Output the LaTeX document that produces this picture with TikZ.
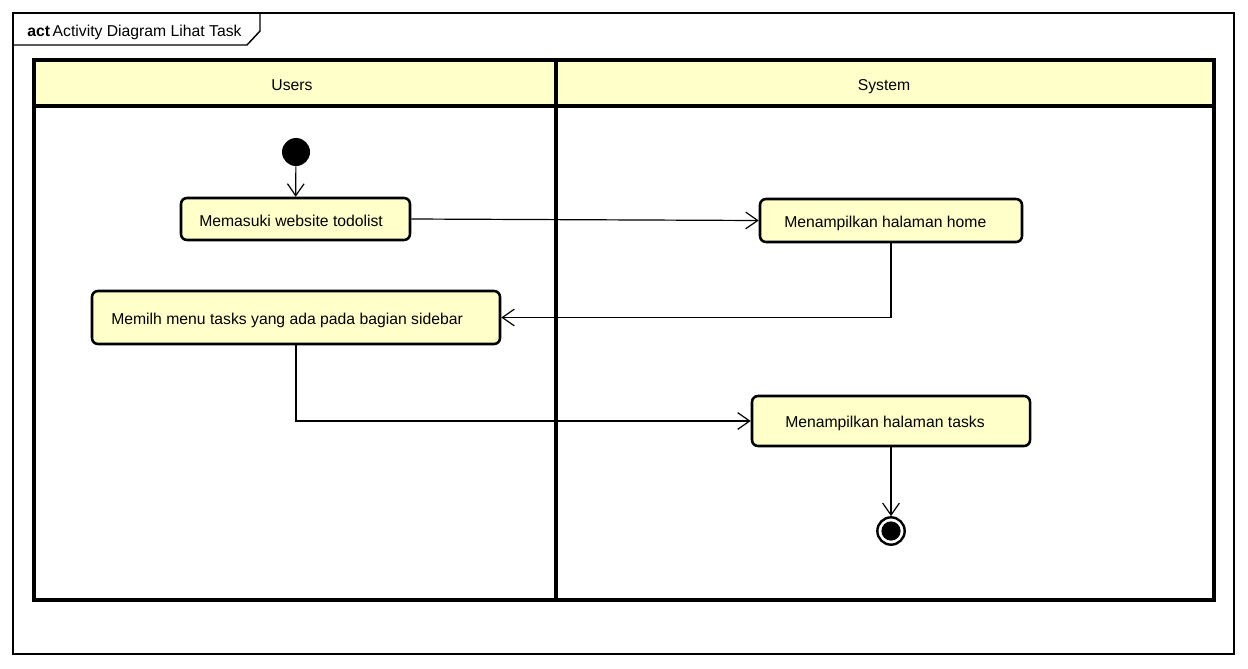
\documentclass[tikz,border=0pt]{standalone}
\usepackage{fontspec}
\setmainfont{Liberation Sans}
\usetikzlibrary{arrows.meta,fit}
\definecolor{lanefill}{HTML}{FFFFCA}
\definecolor{actfill}{HTML}{FFFFCA}
\tikzset{
  frameline/.style={line width=1.1pt},
  laneline/.style={line width=2.3pt},
  actbox/.style={draw, fill=actfill, line width=1.9pt, rounded corners=4.5pt, inner sep=0pt},
  lbl/.style={inner sep=0pt, text height=8.6pt, text depth=2.4pt, font=\fontsize{11.8}{13}\selectfont},
  flow/.style={line width=0.9pt, -{Straight Barb[length=9pt,width=12.5pt]}},
  startnode/.style={circle, fill=black, minimum size=21pt, inner sep=0pt},
  endnode/.style={circle, draw, line width=1.8pt, minimum size=20.5pt, inner sep=0pt,
    path picture={\fill (path picture bounding box.center) circle (7.2pt);}}
}
\begin{document}
\begin{tikzpicture}[x=0.75pt,y=-0.75pt]
\useasboundingbox (0,0) rectangle (1248,668);
% diagram frame with title tab
\draw[frameline] (13,13) rectangle (1234,654);
\draw[frameline] (13,45) -- (247,45) -- (260,31) -- (260,13);
\node[lbl, anchor=west] (title) at (27,32) {\textbf{act}\kern2pt Activity Diagram Lihat Task};
% swimlanes
\fill[lanefill] (34,60) rectangle (1214,106);
\draw[laneline] (34,60) rectangle (1214,600);
\draw[laneline] (34,106) -- (1214,106);
\draw[laneline] (556,60) -- (556,600);
\node[lbl] (lane1) at (292,86.5) {Users};
\node[lbl] (lane2) at (884,86.5) {System};
% activities
\node[startnode] (s) at (296,152) {};
\node[actbox, fit={(181,198)(410,240)}] (a1) {};
\node[lbl, anchor=west] (t1) at (199,222.5) {Memasuki website todolist};
\node[actbox, fit={(760,199)(1022,242)}] (a2) {};
\node[lbl, anchor=west] (t2) at (784,223.5) {Menampilkan halaman home};
\node[actbox, fit={(92,291)(500,344)}] (a3) {};
\node[lbl, anchor=west] (t3) at (111,320.5) {Memilh menu tasks yang ada pada bagian sidebar};
\node[actbox, fit={(752,396)(1030,446)}] (a4) {};
\node[lbl, anchor=west] (t4) at (785,423.5) {Menampilkan halaman tasks};
\node[endnode] (e) at (891,531) {};
% control flows
\draw[flow] (s) -- (a1);
\draw[flow] (a1.east) -- (a2.west);
\draw[flow] (a2.south) |- (a3.east);
\draw[flow] (a3.south) |- (a4.west);
\draw[flow] (a4.south) -- (e);
\end{tikzpicture}
\end{document}
